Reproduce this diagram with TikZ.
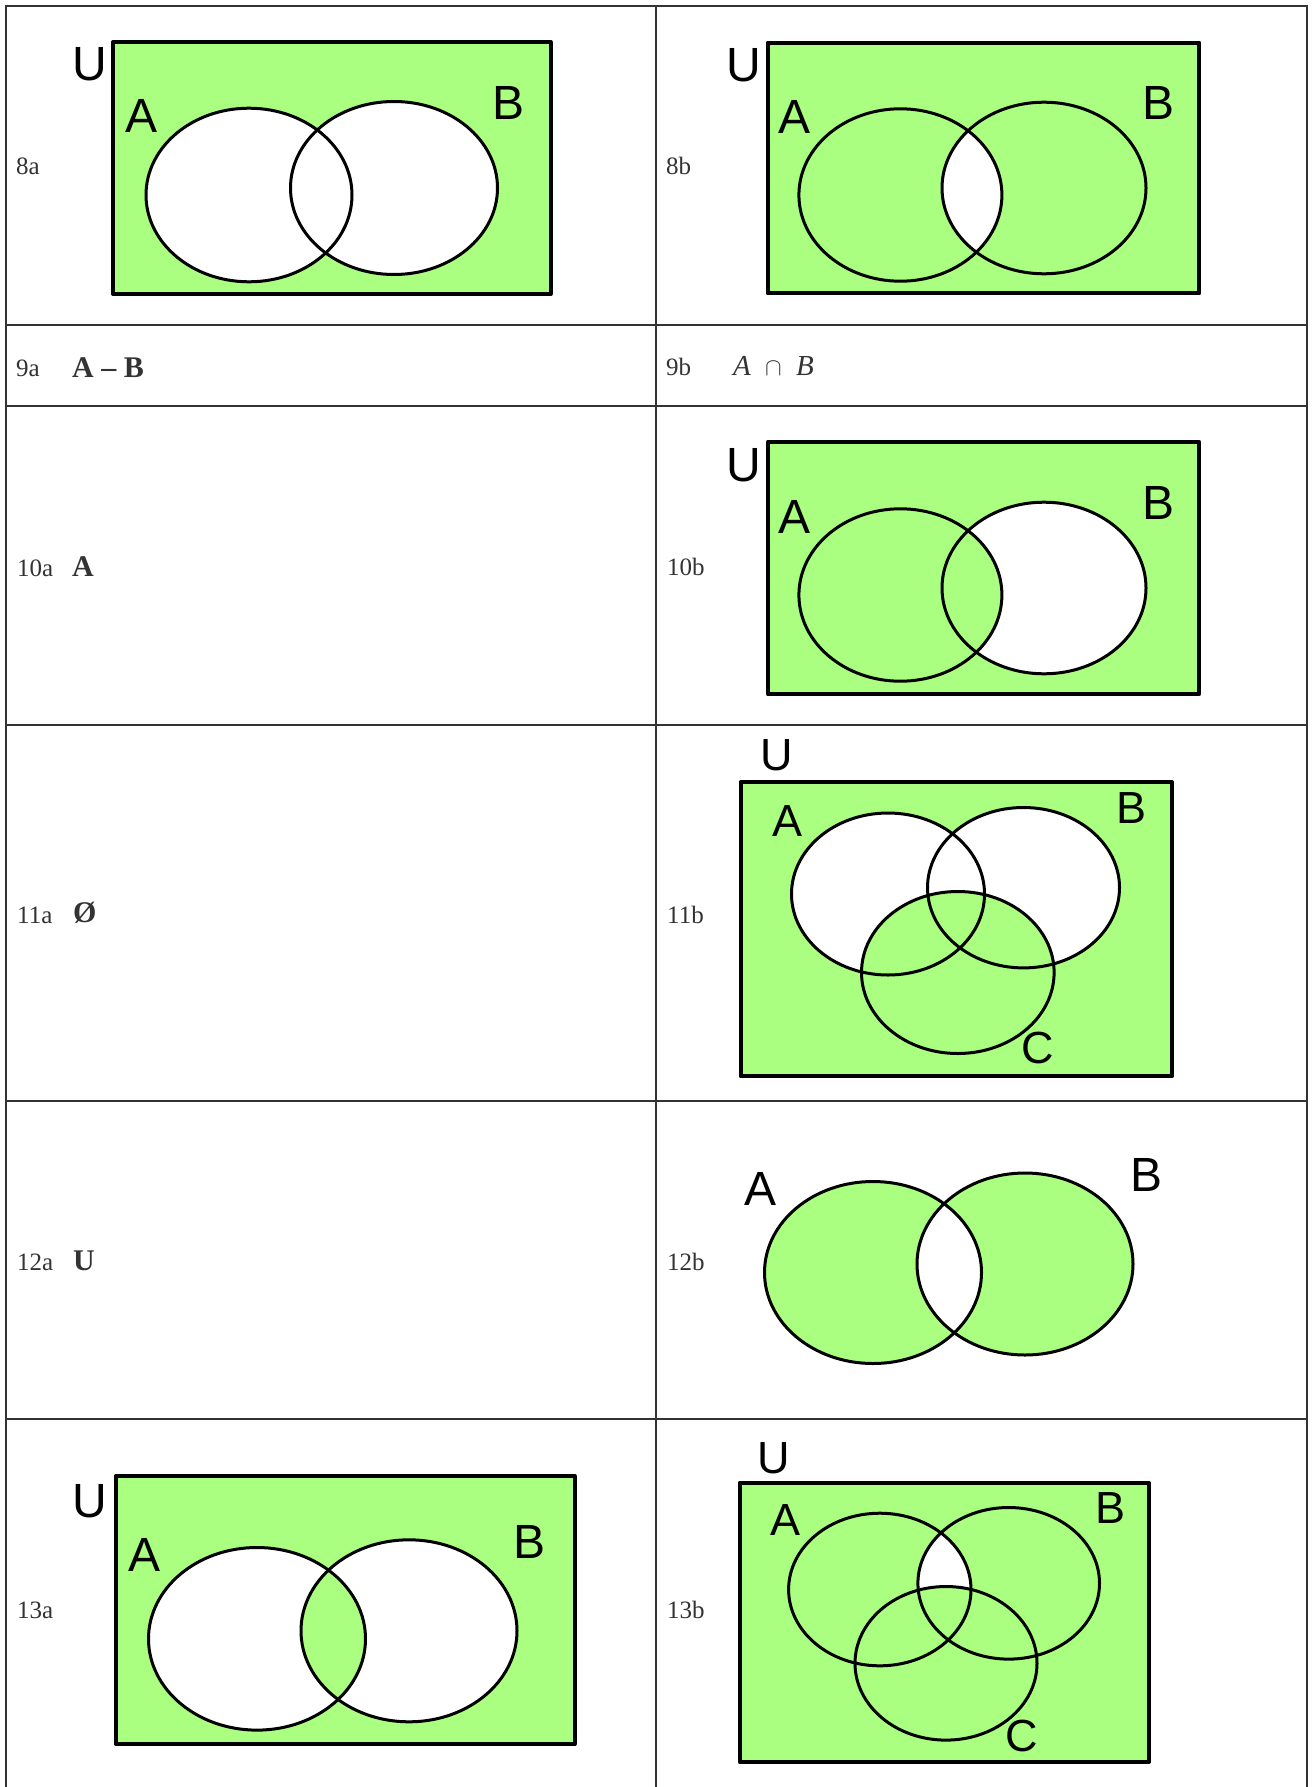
\documentclass[tikz,border=0pt]{standalone}
\usepackage{fontspec}
\setmainfont{Liberation Serif}
\setsansfont{Liberation Sans}
\definecolor{vgreen}{RGB}{170,255,128}
\definecolor{tgray}{RGB}{51,51,51}
\tikzset{
  grid/.style={draw=tgray, line width=2pt},
  urect/.style={draw=black, line width=4pt, line join=round},
  vset/.style={draw=black, line width=3pt},
  vlab/.style={inner sep=0pt, anchor=center, font=\sffamily\fontsize{48}{48}\selectfont},
  vlabs/.style={inner sep=0pt, anchor=center, font=\sffamily\fontsize{45}{45}\selectfont},
  cellno/.style={inner sep=0pt, anchor=base west, text=tgray, font=\fontsize{25}{25}\selectfont},
  ans/.style={inner sep=0pt, anchor=base west, text=tgray, font=\bfseries\fontsize{30}{30}\selectfont},
  mth/.style={inner sep=0pt, anchor=base west, text=tgray, font=\fontsize{29}{29}\selectfont},
  mthop/.style={inner sep=0pt, anchor=base west, text=tgray, font=\fontsize{40}{40}\selectfont}
}
\begin{document}
\begin{tikzpicture}[x=1pt,y=-1pt]
\useasboundingbox (0,0) rectangle (1311,1787);
\fill[white] (0,0) rectangle (1311,1787);

% ---------- 8a ----------
\def\Aea{(249,195) ellipse [x radius=103, y radius=86.8]}
\def\Bea{(394,188) ellipse [x radius=103.5, y radius=86.5]}
\fill[vgreen] (113,42) rectangle (550.5,294);
\fill[white] \Aea; \fill[white] \Bea;
\draw[vset] \Aea; \draw[vset] \Bea;
\draw[urect] (113,42) rectangle (550.5,294);
\node[vlab] (u8a) at (89.5,64) {U};
\node[vlab] (a8a) at (141.5,116) {A};
\node[vlab] (b8a) at (509,102.5) {B};

% ---------- 8b ----------
\def\Aeb{(900.4,195) ellipse [x radius=101.5, y radius=86.2]}
\def\Beb{(1044,188) ellipse [x radius=102, y radius=85.8]}
\fill[vgreen] (767.7,42.7) rectangle (1199.3,293.3);
\begin{scope}\clip \Aeb; \fill[white] \Beb;\end{scope}
\draw[vset] \Aeb; \draw[vset] \Beb;
\draw[urect] (767.7,42.7) rectangle (1199.3,293.3);
\node[vlab] (u8b) at (744,65) {U};
\node[vlab] (a8b) at (794.5,116.5) {A};
\node[vlab] (b8b) at (1158,103) {B};

% ---------- 10b ----------
\def\Aec{(900.4,595) ellipse [x radius=101.5, y radius=86.2]}
\def\Bec{(1044,588) ellipse [x radius=102, y radius=85.8]}
\fill[vgreen] (767.7,442) rectangle (1199.3,694);
\fill[white] \Bec; \fill[vgreen] \Aec;
\draw[vset] \Aec; \draw[vset] \Bec;
\draw[urect] (767.7,442) rectangle (1199.3,694);
\node[vlab] (u10b) at (744,465) {U};
\node[vlab] (a10b) at (794.5,516.5) {A};
\node[vlab] (b10b) at (1158,503) {B};

% ---------- 11b ----------
\def\Aed{(888,894) ellipse [x radius=96.5, y radius=81]}
\def\Bed{(1023.5,887.7) ellipse [x radius=96, y radius=80.2]}
\def\Ced{(957.8,972.5) ellipse [x radius=96.3, y radius=81]}
\fill[vgreen] (740.5,782) rectangle (1172,1076.3);
\fill[white] \Aed; \fill[white] \Bed; \fill[vgreen] \Ced;
\draw[vset] \Aed; \draw[vset] \Bed; \draw[vset] \Ced;
\draw[urect] (740.5,782) rectangle (1172,1076.3);
\node[vlabs] (u11b) at (776.5,755) {U};
\node[vlabs] (a11b) at (787,820.7) {A};
\node[vlabs] (b11b) at (1131,808) {B};
\node[vlabs] (c11b) at (1038,1048) {C};

% ---------- 12b ----------
\def\Aee{(873,1272.5) ellipse [x radius=108.5, y radius=91]}
\def\Bee{(1025,1264) ellipse [x radius=108, y radius=91]}
\fill[vgreen] \Aee; \fill[vgreen] \Bee;
\begin{scope}\clip \Aee; \fill[white] \Bee;\end{scope}
\draw[vset] \Aee; \draw[vset] \Bee;
\node[vlab] (a12b) at (760.5,1188.7) {A};
\node[vlab] (b12b) at (1146,1175) {B};

% ---------- 13a ----------
\def\Aef{(257,1638.8) ellipse [x radius=108.5, y radius=91.3]}
\def\Bef{(409,1630.8) ellipse [x radius=108, y radius=91]}
\fill[vgreen] (115.6,1476) rectangle (574.6,1744);
\fill[white] \Aef; \fill[white] \Bef;
\begin{scope}\clip \Aef; \fill[vgreen] \Bef;\end{scope}
\draw[vset] \Aef; \draw[vset] \Bef;
\draw[urect] (115.6,1476) rectangle (574.6,1744);
\node[vlab] (u13a) at (90,1501.7) {U};
\node[vlab] (a13a) at (145,1555) {A};
\node[vlab] (b13a) at (530,1541.7) {B};

% ---------- 13b ----------
\def\Aeg{(879.8,1589.5) ellipse [x radius=91.2, y radius=76.3]}
\def\Beg{(1008.7,1583.3) ellipse [x radius=90.8, y radius=75.8]}
\def\Ceg{(946,1663.3) ellipse [x radius=91, y radius=76.8]}
\fill[vgreen] (739.7,1482.7) rectangle (1148.8,1762);
\begin{scope}\clip \Aeg; \fill[white] \Beg;\end{scope}
\fill[vgreen] \Ceg;
\draw[vset] \Aeg; \draw[vset] \Beg; \draw[vset] \Ceg;
\draw[urect] (739.7,1482.7) rectangle (1148.8,1762);
\node[vlabs] (u13b) at (773.5,1458) {U};
\node[vlabs] (a13b) at (785,1520) {A};
\node[vlabs] (b13b) at (1110,1508.3) {B};
\node[vlabs] (c13b) at (1021.6,1736) {C};

% ---------- cell texts ----------
\node[cellno] (n8a)  at (16,175) {8a};
\node[cellno] (n8b)  at (666,175) {8b};
\node[cellno] (n9a)  at (16,376.5) {9a};
\node[ans]    (t9a)  at (72,377) {A – B};
\node[cellno] (n9b)  at (666,375) {9b};
\node[mth]    (t9bA) at (733,375) {\itshape A};
\node[mthop]  (t9bc) at (765,375) {$\cap$};
\node[mth]    (t9bB) at (796,375) {\itshape B};
\node[cellno] (n10a) at (17,576) {10a};
\node[ans]    (t10a) at (72,576) {A};
\node[cellno] (n10b) at (667,575) {10b};
\node[cellno] (n11a) at (17,923) {11a};
\node[ans]    (t11a) at (73,922) {Ø};
\node[cellno] (n11b) at (667,923) {11b};
\node[cellno] (n12a) at (17,1270) {12a};
\node[ans]    (t12a) at (73,1270) {U};
\node[cellno] (n12b) at (667,1270) {12b};
\node[cellno] (n13a) at (17,1618) {13a};
\node[cellno] (n13b) at (667,1618) {13b};

% ---------- table grid ----------
\draw[grid] (6,6) -- (6,1787);
\draw[grid] (656,6) -- (656,1787);
\draw[grid] (1307,6) -- (1307,1787);
\draw[grid] (5,6) -- (1308,6);
\draw[grid] (6,324.5) -- (1307,324.5);
\draw[grid] (6,406) -- (1307,406);
\draw[grid] (6,725) -- (1307,725);
\draw[grid] (6,1101) -- (1307,1101);
\draw[grid] (6,1419) -- (1307,1419);
\end{tikzpicture}
\end{document}
